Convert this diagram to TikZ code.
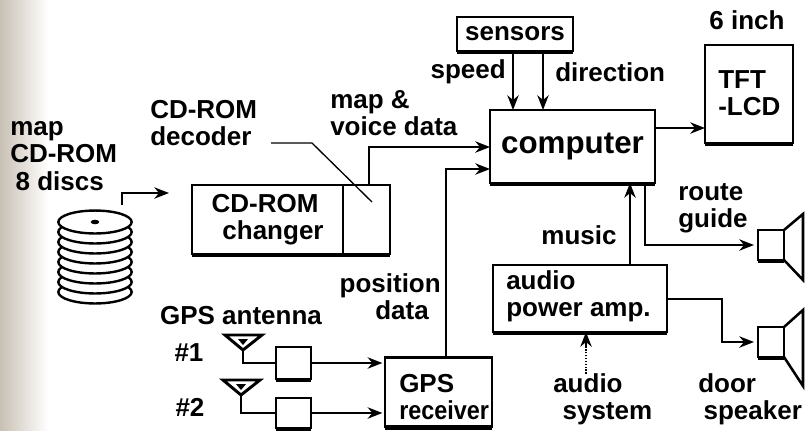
\documentclass[tikz,border=0pt]{standalone}
\usepackage{fontspec}
\setmainfont{Liberation Sans}
\usetikzlibrary{arrows.meta}
\newcommand\lblfont{\fontsize{19.5}{20.5}\selectfont\bfseries}
\newcommand\bigfont{\fontsize{23.5}{26}\selectfont\bfseries}

\begin{document}
\begin{tikzpicture}[x=0.75pt,y=-0.75pt,
  box/.style={draw, line width=1.9pt, inner sep=0pt, outer sep=0pt},
  lbl/.style={font=\lblfont, inner sep=0pt},
  tip/.style={-{Stealth[length=11pt,width=8.5pt,inset=3.5pt]}},
  conn/.style={line width=1.5pt, tip},
  wire/.style={line width=1.5pt},
  leader/.style={line width=1pt},
  base/.style={line width=3.2pt},
  disc/.style={fill=white, draw, line width=1.8pt},
  aerial/.style={line width=2.2pt, line join=miter}
]
\useasboundingbox (0,0) rectangle (807,430);
% paper with a darker fold on the left margin
\fill[white] (0,0) rectangle (807,430);
\fill[left color={rgb,255:red,200;green,192;blue,180}, right color=white] (0,0) rectangle (48,430);

% ---------- blocks ----------
\node[box, minimum width=87pt, minimum height=25.5pt, font=\lblfont] (sens) at (515,34) {sensors};
\node[box, minimum width=66pt, minimum height=73.5pt] (tft) at (749,94) {};
\node[box, minimum width=123.75pt, minimum height=54.75pt, font=\bigfont] (comp) at (572.5,146.5) {computer};
\node[box, minimum width=148.5pt, minimum height=51.75pt] (chg) at (291,219.5) {};
\node[box, minimum width=80.25pt, minimum height=52pt] (gpsr) at (438.5,392) {};
\node[box, minimum width=130.5pt, minimum height=50.25pt] (amp) at (580,298.5) {};
\node[box, minimum width=26.25pt, minimum height=24pt] (lna1) at (293.5,363) {};
\node[box, minimum width=26.25pt, minimum height=22.5pt] (lna2) at (293.5,413) {};
\node[box, minimum width=19.5pt, minimum height=22.5pt] (spk1) at (771,245) {};
\node[box, minimum width=19.5pt, minimum height=22.5pt] (spk2) at (771,342) {};

% thick lower edges of the blocks
\foreach \n in {sens,tft,comp,chg,gpsr,amp,lna1,lna2,spk1,spk2}
  \draw[base] ([yshift=-1pt]\n.south west) -- ([yshift=-1pt]\n.south east);

% decoder compartment of the changer
\coordinate (dv) at (343,0);
\draw[line width=1.9pt] (chg.north -| dv) -- (chg.south -| dv);

% speaker cones
\coordinate (c1t) at (803,214);
\coordinate (c1b) at (803,280);
\coordinate (c2t) at (803,310);
\coordinate (c2b) at (803,386);
\draw[line width=1.9pt, line join=miter] (spk1.north east) -- (c1t) -- (c1b) -- (spk1.south east);
\draw[line width=1.9pt, line join=miter] (spk2.north east) -- (c2t) -- (c2b) -- (spk2.south east);

% ---------- texts inside blocks ----------
\node[lbl, align=left, anchor=west] (tftt) at (718,93) {TFT\\-LCD};
\node[lbl, align=center] (chgt) at (265,220) {CD-ROM\\\hspace*{12pt}changer};
\node[lbl, align=left, anchor=west] (gpst) at (399,397) {GPS\\\scalebox{0.9}[1]{receiver}};
\node[lbl, align=left, anchor=west] (ampt) at (506,296) {audio\\power amp.};

% ---------- free labels ----------
\node[lbl] (inch) at (747,20) {6 inch};
\node[lbl, anchor=east] (spd) at (506,72) {speed};
\node[lbl, anchor=west] (dir) at (555,72) {direction};
\node[lbl, align=left, anchor=west] (mvd) at (330,113) {map \&\\voice data};
\node[lbl, align=left, anchor=west] (dec) at (150,123) {CD-ROM\\decoder};
\node[lbl, align=left, anchor=west] (mcd) at (10,156) {map\\CD-ROM\\\hspace*{4pt}8 discs};
\node[lbl] (ant) at (241,316) {GPS antenna};
\node[lbl] (n1) at (189,353) {\#1};
\node[lbl] (n2) at (190,407) {\#2};
\node[lbl, align=right, anchor=east] (pos) at (441,297) {position\\data\hspace*{9pt}};
\node[lbl] (mus) at (579,235) {music};
\node[lbl, align=left, anchor=west] (rg) at (678,208) {route\\guide};
\node[lbl, align=left, anchor=west] (asys) at (553,399) {audio\\\hspace*{7pt}system};
\node[lbl, align=left, anchor=west] (door) at (698,399) {door\\\hspace*{4pt}speaker};

% ---------- disc stack ----------
\foreach \i in {7,6,...,0}
  \draw[disc] (95,222+10*\i) ellipse [x radius=27.5pt, y radius=8.6pt];
\fill (95,222) ellipse [x radius=3.2pt, y radius=1.7pt];

% ---------- antennas ----------
\coordinate (a1l) at (225,335);
\coordinate (a1r) at (262,335);
\coordinate (a1p) at (243,350);
\coordinate (a2l) at (223,380);
\coordinate (a2r) at (260,380);
\coordinate (a2p) at (241,395);
\draw[aerial] (a1l) -- (a1r) -- (a1p) -- cycle;
\draw[aerial] (a2l) -- (a2r) -- (a2p) -- cycle;
\fill (243,339) -- (248,339) -- (243,345) -- (238,339) -- cycle;
\fill (241,384) -- (246,384) -- (241,390) -- (236,384) -- cycle;

% ---------- connectors ----------
\coordinate (s1) at (513,0);
\coordinate (s2) at (543,0);
\draw[conn] (sens.south -| s1) -- (comp.north -| s1);
\draw[conn] (sens.south -| s2) -- (comp.north -| s2);

\coordinate (yt) at (0,128);
\draw[conn] (comp.east |- yt) -- (tft.west |- yt);

\coordinate (mv) at (369,147);
\draw[conn] (chg.north -| mv) |- (comp.west |- mv);

\coordinate (pd) at (446,169);
\draw[conn] (gpsr.north -| pd) |- (comp.west |- pd);

\coordinate (ld1) at (271,143);
\coordinate (ld2) at (312,143);
\coordinate (ld3) at (372,202);
\draw[leader] (ld1) -- (ld2) -- (ld3);

\coordinate (ds) at (122,205);
\coordinate (dt) at (169,193);
\draw[conn] (ds) |- (dt);

\draw[wire] (a1p) |- (lna1.west);
\draw[wire] (a2p) |- (lna2.west);
\draw[conn, shorten >=2pt] (lna1.east) -- (gpsr.west |- lna1.east);
\draw[conn, shorten >=2pt] (lna2.east) -- (gpsr.west |- lna2.east);

\coordinate (mu) at (630,0);
\draw[conn] (amp.north -| mu) -- (comp.south -| mu);

\coordinate (rgx) at (645,0);
\draw[conn, shorten >=3pt] (comp.south -| rgx) |- (spk1.west);

\coordinate (ao) at (722,299);
\draw[conn, shorten >=3pt] (amp.east |- ao) -- (ao) |- (spk2.west);

\coordinate (as) at (586,374);
\coordinate (ah) at (586,346);
\draw[line width=1.5pt, dash pattern=on 1.2pt off 1pt] (as) -- (ah);
\draw[line width=1.5pt, tip] (ah) -- (amp.south -| as);
\end{tikzpicture}
\end{document}
